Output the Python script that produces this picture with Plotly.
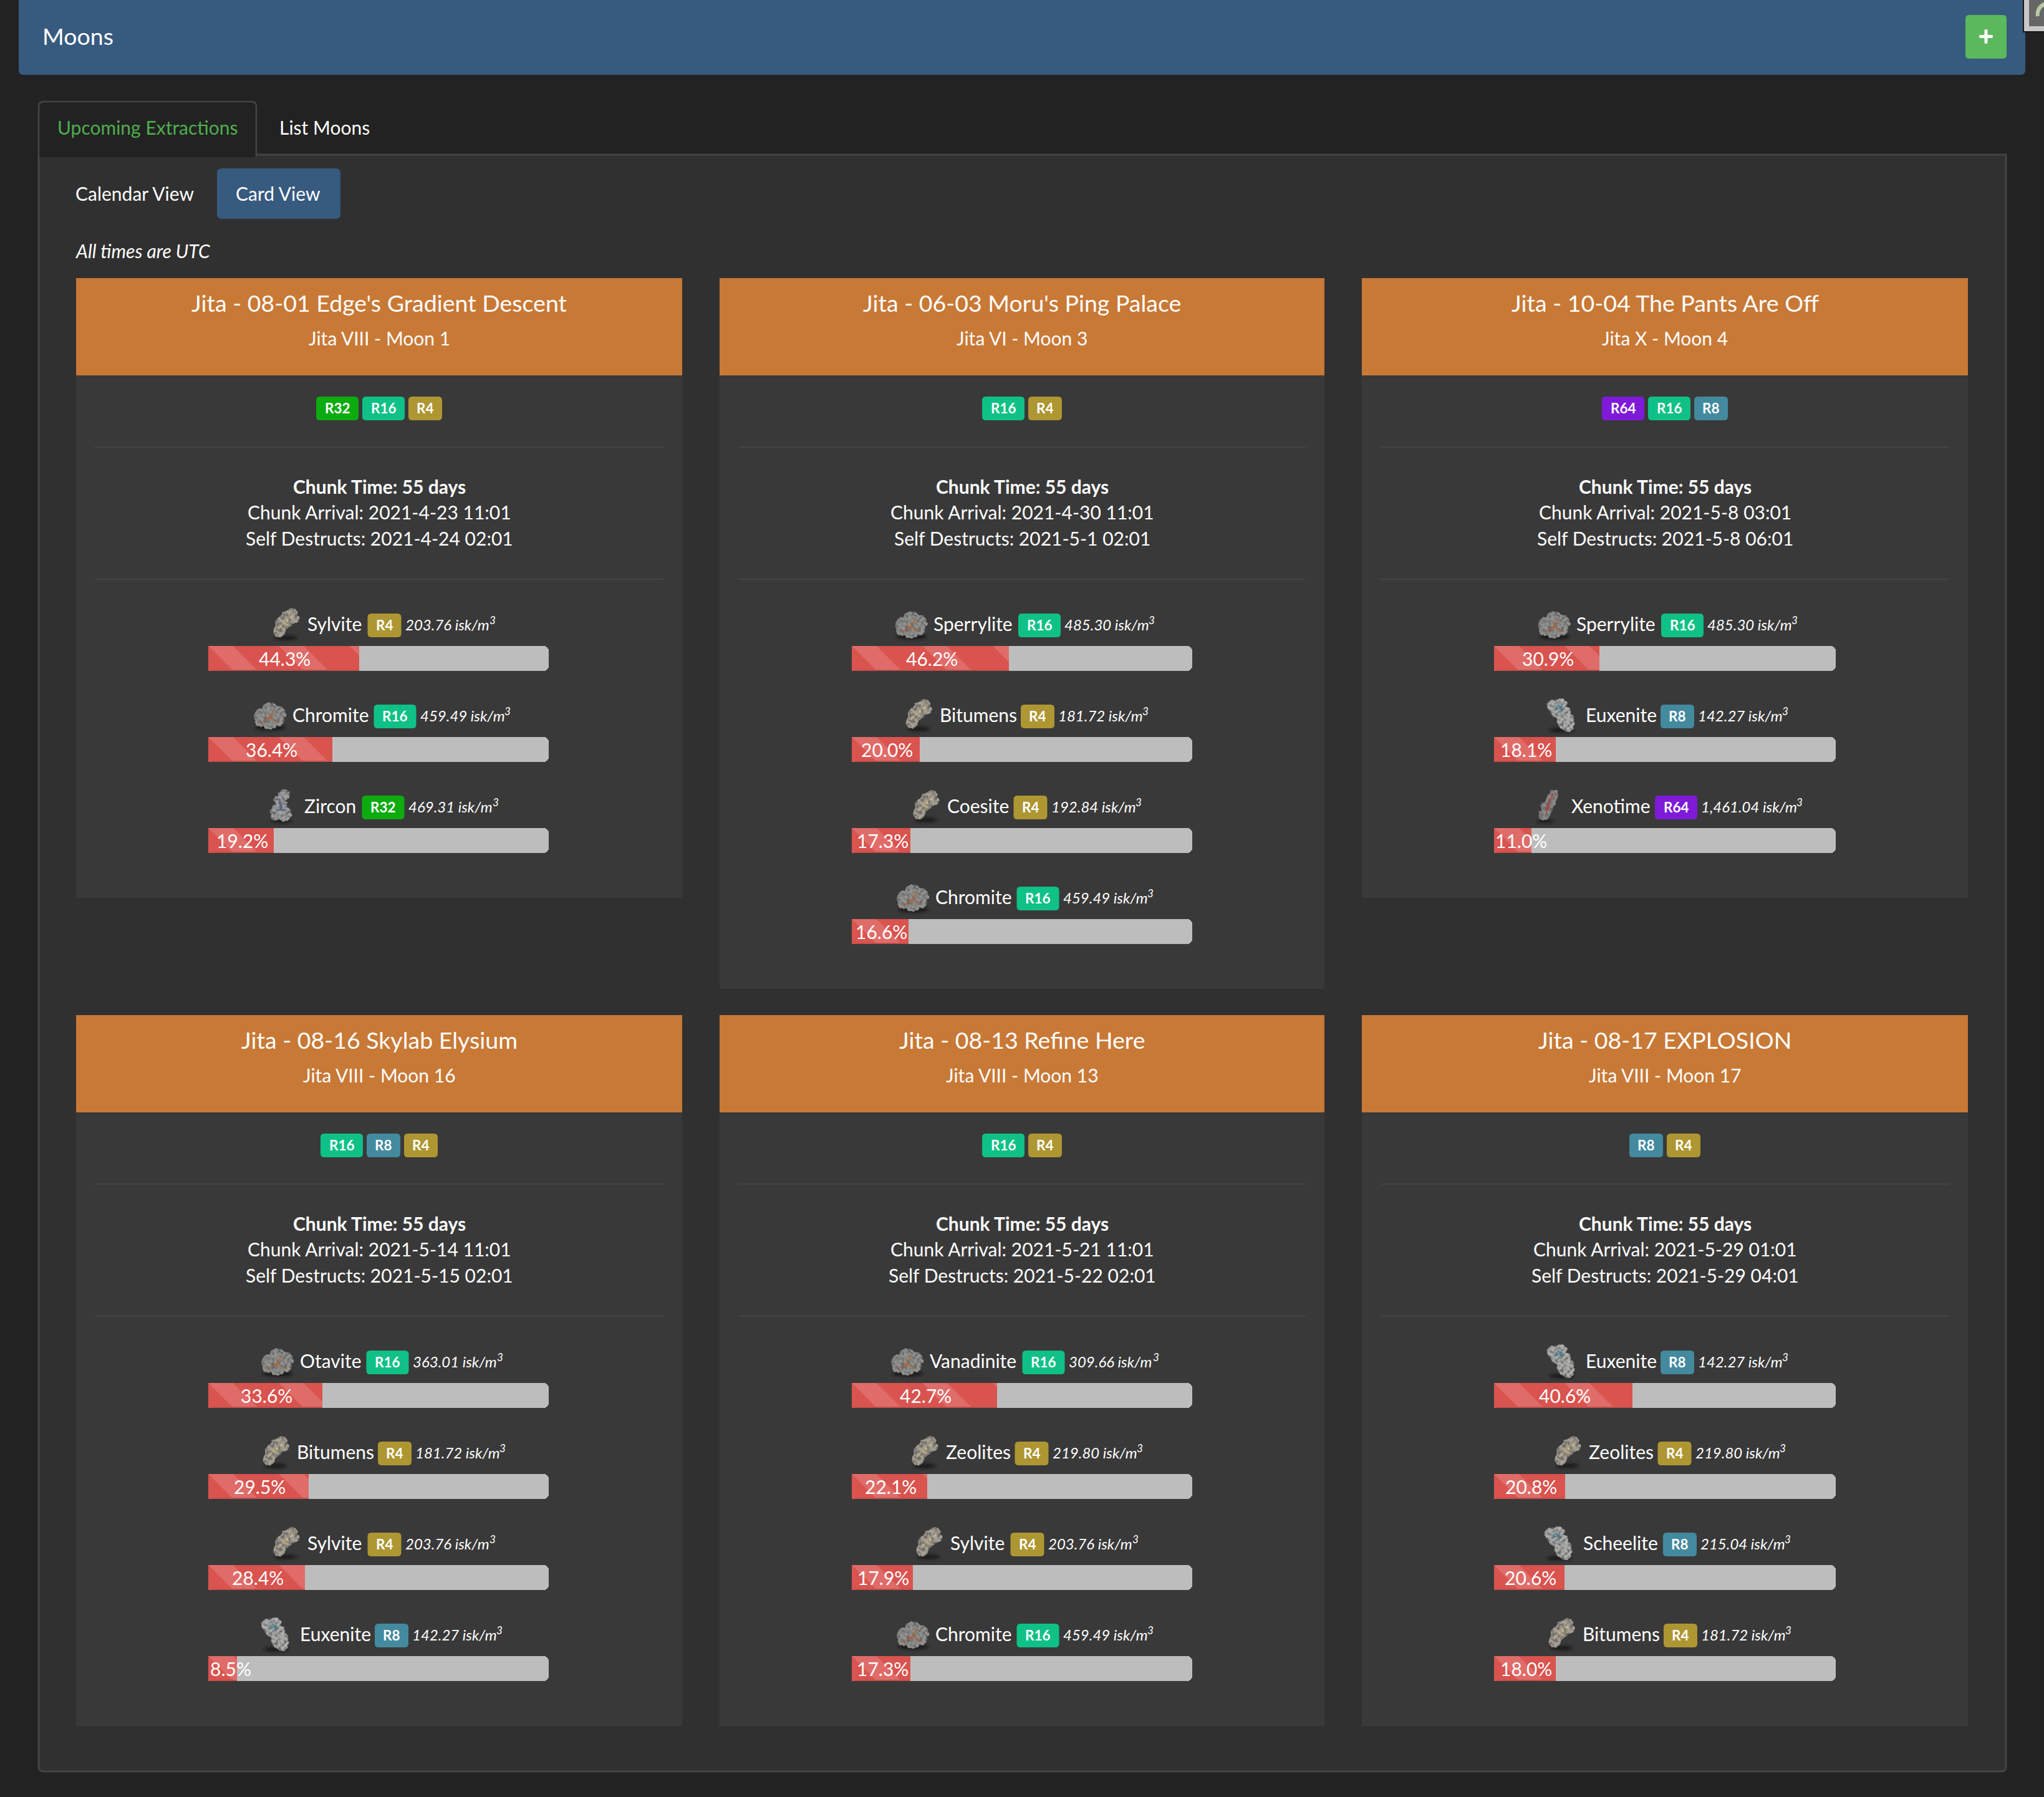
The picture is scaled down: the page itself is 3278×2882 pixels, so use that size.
"""
moon extraction cards page drawn as one plotly figure
"""
import base64
from plotly import graph_objects as go

card_titles = ["Jita - 08-01 Edge's Gradient Descent", "Jita - 06-03 Moru's Ping Palace", "Jita - 10-04 The Pants Are Off",
               "Jita - 08-16 Skylab Elysium", "Jita - 08-13 Refine Here", "Jita - 08-17 EXPLOSION"]
moon_names = ["Jita VIII - Moon 1", "Jita VI - Moon 3", "Jita X - Moon 4",
              "Jita VIII - Moon 16", "Jita VIII - Moon 13", "Jita VIII - Moon 17"]
card_ranks = [["R32", "R16", "R4"], ["R16", "R4"], ["R64", "R16", "R8"],
              ["R16", "R8", "R4"], ["R16", "R4"], ["R8", "R4"]]
chunk_arrivals = ["2021-4-23 11:01", "2021-4-30 11:01", "2021-5-8 03:01",
                  "2021-5-14 11:01", "2021-5-21 11:01", "2021-5-29 01:01"]
self_destructs = ["2021-4-24 02:01", "2021-5-1 02:01", "2021-5-8 06:01",
                  "2021-5-15 02:01", "2021-5-22 02:01", "2021-5-29 04:01"]
card_ores = [["Sylvite", "Chromite", "Zircon"],
             ["Sperrylite", "Bitumens", "Coesite", "Chromite"],
             ["Sperrylite", "Euxenite", "Xenotime"],
             ["Otavite", "Bitumens", "Sylvite", "Euxenite"],
             ["Vanadinite", "Zeolites", "Sylvite", "Chromite"],
             ["Euxenite", "Zeolites", "Scheelite", "Bitumens"]]
card_pcts = [[44.3, 36.4, 19.2],
             [46.2, 20.0, 17.3, 16.6],
             [30.9, 18.1, 11.0],
             [33.6, 29.5, 28.4, 8.5],
             [42.7, 22.1, 17.9, 17.3],
             [40.6, 20.8, 20.6, 18.0]]
ore_rank = {"Sylvite": "R4", "Chromite": "R16", "Zircon": "R32", "Sperrylite": "R16", "Bitumens": "R4", "Coesite": "R4",
            "Euxenite": "R8", "Xenotime": "R64", "Otavite": "R16", "Vanadinite": "R16", "Zeolites": "R4", "Scheelite": "R8"}
ore_isk = {"Sylvite": "203.76", "Chromite": "459.49", "Zircon": "469.31", "Sperrylite": "485.30", "Bitumens": "181.72",
           "Coesite": "192.84", "Euxenite": "142.27", "Xenotime": "1,461.04", "Otavite": "363.01", "Vanadinite": "309.66",
           "Zeolites": "219.80", "Scheelite": "215.04"}

# style and layout constants, all in page pixels
W, H = 3278, 2882
FONT = "Lato"
rank_colors = {"R4": "#ae9632", "R8": "#438a9f", "R16": "#0fc186", "R32": "#0cab10", "R64": "#7f1ad9"}
name_widths = {"Sylvite": 90, "Chromite": 124, "Zircon": 86, "Sperrylite": 129, "Bitumens": 123, "Coesite": 100,
               "Euxenite": 113, "Xenotime": 127, "Otavite": 100, "Vanadinite": 142, "Zeolites": 104, "Scheelite": 121}
card_lefts = [122, 1154, 2184]
card_rights = [1094, 2124, 3156]
track_widths = [546, 546, 548]
row_tops = [446, 1628]
ROW_PITCH = 146
BAR_H = 40

shapes = []
annotations = []
images = []


def text(x, y, s, size=30, color="#ffffff", anchor="center", bold=False, italic=False):
    if bold:
        s = "<b>" + s + "</b>"
    if italic:
        s = "<i>" + s + "</i>"
    if anchor == "left":
        x -= 3  # annotation padding
    annotations.append(dict(x=x, y=y, xref="x", yref="y", text=s, showarrow=False, xanchor=anchor, yanchor="middle",
                            font=dict(family=FONT, size=size, color=color)))


def box(x0, y0, x1, y1, fill, r=(0, 0, 0, 0), line=None, line_w=0):
    """rounded rect, r is top left, top right, bottom right, bottom left"""
    tl, tr, br, bl = r
    path = (f"M{x0 + tl},{y0} L{x1 - tr},{y0} Q{x1},{y0} {x1},{y0 + tr} L{x1},{y1 - br} Q{x1},{y1} {x1 - br},{y1} "
            f"L{x0 + bl},{y1} Q{x0},{y1} {x0},{y1 - bl} L{x0},{y0 + tl} Q{x0},{y0} {x0 + tl},{y0} Z")
    shapes.append(dict(type="path", path=path, xref="x", yref="y", fillcolor=fill, layer="below",
                       line=dict(color=line if line else fill, width=line_w)))


def badge_width(rank):
    return 54 if len(rank) == 2 else 68


def badge(x, y_mid, rank):
    w = badge_width(rank)
    box(x, y_mid - 19, x + w, y_mid + 19, rank_colors[rank], r=(6, 6, 6, 6))
    text(x + w / 2, y_mid - 1, rank, size=22.5, bold=True)


def rock_uri(blobs, fill, veins, vein_color, shadow, seed):
    circles = "".join(f'<circle cx="{x}" cy="{y}" r="{r}"/>' for x, y, r in blobs)
    sx, sy, srx, sry = shadow
    svg = ('<svg xmlns="http://www.w3.org/2000/svg" width="128" height="128" viewBox="0 0 64 64"><defs>'
           '<filter id="b" x="-30%" y="-60%" width="160%" height="220%"><feGaussianBlur stdDeviation="2"/></filter>'
           '<filter id="r" x="-20%" y="-20%" width="140%" height="140%">'
           f'<feTurbulence type="fractalNoise" baseFrequency="0.2" numOctaves="3" seed="{seed}" result="n"/>'
           '<feDisplacementMap in="SourceGraphic" in2="n" scale="5" xChannelSelector="R" yChannelSelector="G" result="d"/>'
           '<feColorMatrix in="n" type="matrix" values="0 0 0 0 0.12 0 0 0 0 0.12 0 0 0 0 0.12 2.4 0 0 0 -0.85" result="k"/>'
           '<feComposite in="k" in2="d" operator="in" result="m"/>'
           '<feMerge><feMergeNode in="d"/><feMergeNode in="m"/></feMerge></filter></defs>'
           f'<ellipse cx="{sx}" cy="{sy}" rx="{srx}" ry="{sry}" fill="#1c1c1c" filter="url(#b)"/>'
           f'<g filter="url(#r)"><g fill="{fill}">{circles}</g>'
           f'<path d="{veins}" fill="none" stroke="{vein_color}" stroke-width="2.2"/></g></svg>')
    return "data:image/svg+xml;base64," + base64.b64encode(svg.encode()).decode()


ridge = rock_uri([(46, 15, 9), (49, 23, 8), (38, 22, 11), (30, 31, 11), (25, 43, 10), (38, 31, 7)], "#a8a294",
                 "M24 40 L34 30 L46 18 M30 24 L40 34", "#d8c08c", (36, 54, 18, 4), 4)
lump = rock_uri([(22, 34, 13), (34, 24, 13), (48, 30, 12), (34, 42, 13), (19, 42, 9), (48, 40, 10)], "#949492",
                "M18 46 L32 36 L40 24 M32 36 L48 44", "#b4602c", (35, 52, 24, 5), 7)
tall = rock_uri([(18, 17, 10), (30, 15, 10), (33, 28, 13), (38, 42, 14), (24, 26, 10), (42, 50, 9)], "#b0b0ae",
                "M18 24 L26 16 L34 24 M24 30 L32 18", "#46899e", (32, 56, 20, 4), 11)
zircon = rock_uri([(38, 14, 9), (30, 22, 8), (26, 40, 10), (38, 44, 12), (24, 48, 7), (34, 30, 9)], "#a2a2a2",
                  "M30 20 L34 36 M26 38 L40 38", "#3f63a5", (34, 56, 18, 3), 5)
xeno = rock_uri([(42, 13, 7), (37, 24, 9), (31, 34, 10), (26, 46, 9), (38, 18, 7)], "#8f8a8a",
                "M40 12 L32 30 L28 46 M36 26 L32 38", "#b23a3a", (28, 56, 14, 3), 9)
ore_icons = {"Sylvite": ridge, "Bitumens": ridge, "Coesite": ridge, "Zeolites": ridge,
             "Chromite": lump, "Sperrylite": lump, "Otavite": lump, "Vanadinite": lump,
             "Euxenite": tall, "Scheelite": tall, "Zircon": zircon, "Xenotime": xeno}

# page chrome
box(30, -10, 3248, 120, "#375a7f", r=(0, 0, 8, 8))
text(69, 57, "Moons", size=37.5, anchor="left")
box(3152, 24, 3218, 94, "#5cb85c", r=(6, 6, 6, 6))
box(3174, 56, 3196, 61, "#ffffff", r=(2, 2, 2, 2))
box(3182.5, 47, 3187.5, 70, "#ffffff", r=(2, 2, 2, 2))
box(3244, -2, 3280, 52, "#16181a")
box(3246, -2, 3280, 50, "#c8c8c8")
box(3254, -2, 3280, 42, "#666666")
shapes.append(dict(type="path", path="M3268,26 Q3266,12 3280,6", xref="x", yref="y", layer="below",
                   line=dict(color="#b5c9a5", width=6)))

box(62, 248, 3217, 2841, "#303030", r=(0, 0, 8, 8), line="#444444", line_w=3)
box(62, 163, 411, 250, "#222222", r=(8, 8, 0, 0), line="#444444", line_w=2.5)
box(63.5, 240, 409.5, 252, "#222222")
text(93, 204, "Upcoming Extractions", color="#4fae4f", anchor="left")
text(449, 204, "List Moons", anchor="left")
text(122, 310, "Calendar View", anchor="left")
box(348, 270, 546, 351, "#375a7f", r=(8, 8, 8, 8))
text(379, 310, "Card View", anchor="left")
text(122, 402, "All times are UTC", italic=True, anchor="left")

fig = go.Figure()
layout_axes = {}

# invisible pixel axes carry the page chrome
layout_axes["xaxis"] = dict(range=[0, W], domain=[0, 1], visible=False, fixedrange=True)
layout_axes["yaxis"] = dict(range=[H, 0], domain=[0, 1], visible=False, fixedrange=True)
fig.add_trace(go.Scatter(x=[0], y=[0], mode="markers", marker_opacity=0, showlegend=False, hoverinfo="skip"))

stripe = dict(shape="\\", size=80, solidity=0.35, bgcolor="#d9534f", fgcolor="#e06c69", fillmode="replace")
axis_n = 1

for i, title in enumerate(card_titles):
    col = i % 3
    top = row_tops[i // 3]
    left, right = card_lefts[col], card_rights[col]
    track_w = track_widths[col]
    mid = (left + right) / 2
    ores = card_ores[i]
    pcts = card_pcts[i]
    bottom = top + 994 if len(ores) == 3 else top + 1140

    box(left, top, right, bottom, "#393939")
    box(left, top, right, top + 156, "#c87936")
    text(mid, top + 39, title, size=37.5)
    text(mid, top + 96, moon_names[i])

    total = sum(badge_width(r) for r in card_ranks[i]) + 6 * (len(card_ranks[i]) - 1)
    bx = mid - total / 2
    for rank in card_ranks[i]:
        badge(bx, top + 209, rank)
        bx += badge_width(rank) + 6

    box(left + 30, top + 270, right - 30, top + 272, "#444444")
    text(mid, top + 334, "Chunk Time: 55 days", bold=True)
    text(mid, top + 375, "Chunk Arrival: " + chunk_arrivals[i])
    text(mid, top + 417, "Self Destructs: " + self_destructs[i])
    box(left + 30, top + 482, right - 30, top + 484, "#444444")

    for j, ore in enumerate(ores):
        bar_top = top + 590 + j * ROW_PITCH
        rank = ore_rank[ore]
        pct = pcts[j]
        value_w = 161 if len(ore_isk[ore]) > 6 else 143
        row_w = 71 + name_widths[ore] + 6 + badge_width(rank) + 7 + value_w
        x0 = mid - row_w / 2
        images.append(dict(source=ore_icons[ore], xref="x", yref="y", x=x0, y=bar_top - 67, sizex=64, sizey=64,
                           xanchor="left", yanchor="top", layer="above"))
        text(x0 + 71, bar_top - 36, ore, anchor="left")
        badge(x0 + 71 + name_widths[ore] + 6, bar_top - 33, rank)
        text(x0 + 71 + name_widths[ore] + 6 + badge_width(rank) + 7, bar_top - 35,
             ore_isk[ore] + " isk/m", size=24, italic=True, anchor="left")
        text(x0 + row_w - 8, bar_top - 42, "3", size=17, italic=True, anchor="left")

        # each ore row gets its own 0-100 axis over the progress track, twice the bar height
        # so the stripe pattern starts the same way in every bar
        axis_n += 1
        n = str(axis_n)
        track_left = left + 212
        layout_axes["xaxis" + n] = dict(domain=[track_left / W, (track_left + track_w) / W], range=[0, 100], visible=False,
                                        anchor="y" + n, fixedrange=True)
        layout_axes["yaxis" + n] = dict(domain=[1 - (bar_top + BAR_H * 1.5) / H, 1 - (bar_top - BAR_H / 2) / H],
                                        range=[0.5, -0.5], type="category", categoryarray=[ore], visible=False,
                                        anchor="x" + n, fixedrange=True)
        common = dict(y=[ore], orientation="h", xaxis="x" + n, yaxis="y" + n, showlegend=False, hoverinfo="skip",
                      textposition="none")
        fig.add_trace(go.Bar(x=[100], width=0.5, marker=dict(color="#bdbdbd", cornerradius=8, line_width=0), **common))
        fig.add_trace(go.Bar(x=[pct], width=0.5, marker=dict(color="#d9534f", pattern=stripe, cornerradius=8, line_width=0), **common))
        fig.add_trace(go.Bar(x=[pct / 2], base=[pct / 2], width=0.5,
                             marker=dict(color="#d9534f", pattern=stripe, cornerradius=0, line_width=0), **common))
        fig.add_trace(go.Bar(x=[pct - 1], base=[1], width=0.025, offset=0.225,
                             marker=dict(color="#c44f4b", line_width=0), **common))

        # label is centred on the bar unless it is wider than the bar, then it starts at the bar's left
        label = f"{pct:.1f}%"
        label_w = 63 if len(label) == 4 else 78
        label_x = max(pct / 2 + 0.37, (label_w / 2 + 4) / track_w * 100)
        annotations.append(dict(x=label_x, y=ore, xref="x" + n, yref="y" + n, text=label, showarrow=False,
                                xanchor="center", yanchor="middle", font=dict(family=FONT, size=30, color="#ffffff")))

fig.update_layout(width=W, height=H, margin=dict(l=0, r=0, t=0, b=0), paper_bgcolor="#222222", plot_bgcolor="rgba(0,0,0,0)",
                  barmode="overlay", bargap=0, showlegend=False, hovermode=False, shapes=shapes, annotations=annotations,
                  images=images, font=dict(family=FONT, color="#ffffff"), **layout_axes)
fig.write_html("out.html", config=dict(displayModeBar=False),
               post_script="document.body.style.margin='0';document.body.style.background='#222222';")
